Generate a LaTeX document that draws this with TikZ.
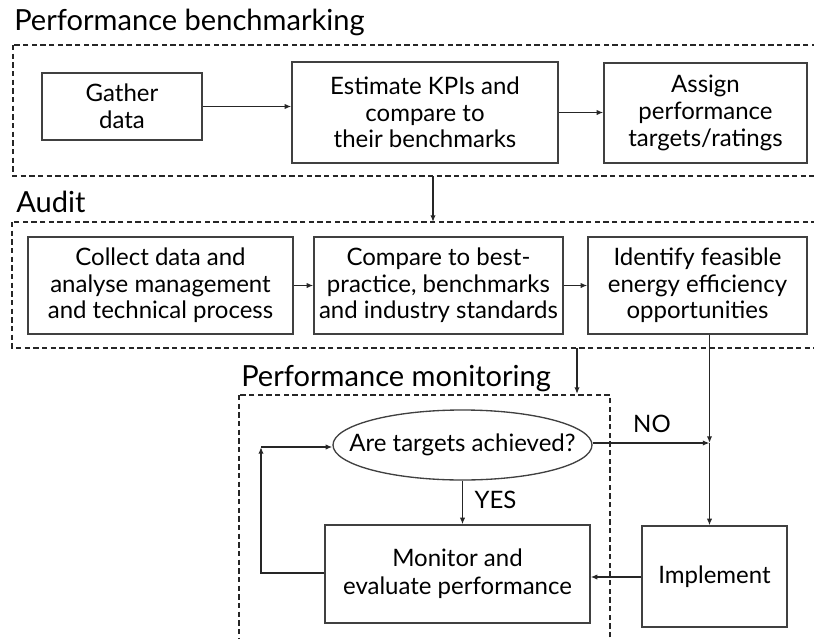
\documentclass[tikz,border=0pt]{standalone}
\usepackage{fontspec}
\setmainfont{Lato}
\usetikzlibrary{arrows.meta,shapes.geometric}
\tikzset{
  x=0.75pt,y=-0.75pt,
  box/.style={draw=black!75,line width=1pt,align=center,inner sep=0pt,font=\fontsize{18}{20}\selectfont},
  dbox/.style={draw=black!85,line width=0.9pt,dash pattern=on 4pt off 2.5pt},
  title/.style={anchor=base west,inner sep=0pt,font=\fontsize{21.8}{24}\selectfont},
  lbl/.style={inner sep=0pt,font=\fontsize{18}{20}\selectfont},
  arr/.style={draw=black!85,line width=1pt,-{Latex[length=5pt,width=4pt]}},
}
\begin{document}
\begin{tikzpicture}
\useasboundingbox (0,0) rectangle (814,639);
\clip (0,0) rectangle (814,639);
% titles
\node[title] (t1) at (14,30) {Performance benchmarking};
\node[title] (t2) at (16,212) {Audit};
\node[title] (t3) at (241,386) {Performance monitoring};
% dashed regions
\draw[dbox] (13,45) rectangle (830,176);
\draw[dbox] (12,222) rectangle (830,348);
\draw[dbox] (239,395) rectangle (610,660);
% row 1
\node[box,minimum width=160*0.75pt,minimum height=67*0.75pt] (gat) at (122,106.5) {Gather\\data};
\node[box,minimum width=266*0.75pt,minimum height=101*0.75pt] (est) at (425,112.5) {Estimate KPIs and\\compare to\\their benchmarks};
\node[box,minimum width=203*0.75pt,minimum height=100*0.75pt] (asg) at (705.5,113) {Assign\\performance\\targets/ratings};
\draw[arr] (gat.east) -- (gat.east -| est.west);
\draw[arr] (est.east) -- (est.east -| asg.west);
% row 2
\node[box,minimum width=265*0.75pt,minimum height=97*0.75pt] (col) at (160.5,285.5) {Collect data and\\analyse management\\and technical process};
\node[box,minimum width=249*0.75pt,minimum height=97*0.75pt] (cmp) at (438.5,285.5) {Compare to best-\\practice, benchmarks\\and industry standards};
\node[box,minimum width=219*0.75pt,minimum height=97*0.75pt] (idf) at (697.5,285.5) {Identify feasible\\energy efficiency\\opportunities};
\draw[arr] (col.east) -- (cmp.west);
\draw[arr] (cmp.east) -- (idf.west);
% between regions
\coordinate (p1) at (433,176);
\coordinate (p2) at (433,222);
\draw[arr] (p1) -- (p2);
\coordinate (p3) at (577,348);
\coordinate (p4) at (577,394);
\draw[arr] (p3) -- (p4);
% monitoring
\node[ellipse,draw=black!75,line width=1pt,inner sep=0pt,minimum width=259*0.75pt,minimum height=70*0.75pt] (ell) at (462.5,445) {};
\node[lbl] (elltxt) at (ell.center) {Are targets achieved?};
\node[box,minimum width=265*0.75pt,minimum height=98*0.75pt] (mon) at (457.5,574) {Monitor and\\[1pt]evaluate performance};
\node[box,minimum width=145*0.75pt,minimum height=101*0.75pt] (imp) at (714.5,576.5) {Implement};
\coordinate (nj) at (709.5,443);
\coordinate (cr) at (261,447);
\draw[arr] (idf.south -| nj) -- (nj);
\draw[arr] (nj) -- (nj |- imp.north);
\draw[arr] (ell.east |- nj) -- (nj);
\node[lbl] (no) at (652,424) {NO};
\draw[arr] (ell.south) -- (ell.south |- mon.north);
\node[lbl] (yes) at (495.5,500) {YES};
\draw[arr] (imp.west |- 0,577) -- (mon.east |- 0,577);
\draw[arr] (mon.west |- 0,573) -| (cr);
\draw[arr] (cr) -- (ell.west |- cr);
\end{tikzpicture}
\end{document}
